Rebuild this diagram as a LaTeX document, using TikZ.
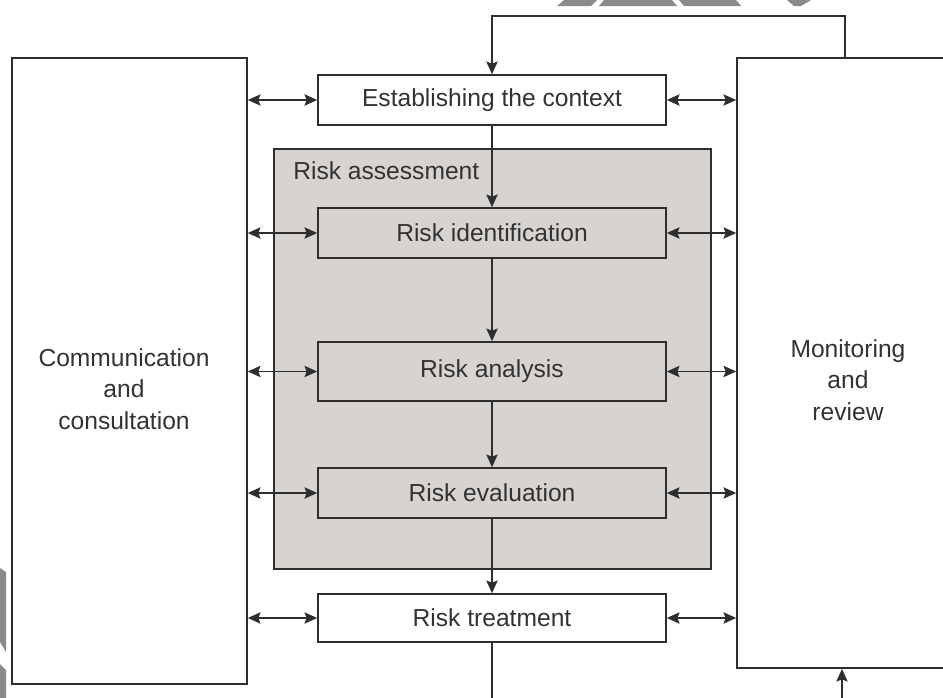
\documentclass[tikz,border=0pt]{standalone}
\usepackage{fontspec}
\setmainfont{Liberation Sans}
\usepackage{tikz}
\usetikzlibrary{arrows.meta, calc, positioning}
\definecolor{riskline}{HTML}{2E2E2E}
\definecolor{riskgray}{HTML}{D7D3D0}
\definecolor{risktext}{HTML}{333333}
\definecolor{markgray}{HTML}{8A8A8A}

\begin{document}
\begin{tikzpicture}[
    x=0.025cm, y=-0.025cm,
    stage/.style={rectangle, draw=riskline, line width=1.1pt, fill=white,
                  minimum width=8.7cm, minimum height=1.25cm, inner sep=0pt,
                  font=\fontsize{17.5}{22}\selectfont, text=risktext},
    inner/.style={stage, fill=riskgray},
    side/.style={rectangle, draw=riskline, line width=1.1pt, fill=white,
                 inner sep=0pt},
    sidetext/.style={align=center, font=\fontsize{17.5}{22.3}\selectfont,
                     text=risktext},
    flow/.style={riskline, line width=1.3pt,
                 -{Stealth[length=9pt, width=8pt, inset=1.5pt]}},
    both/.style={riskline, line width=1.3pt,
                 {Stealth[length=9pt, width=8pt, inset=1.5pt]}-{Stealth[length=9pt, width=8pt, inset=1.5pt]}},
]
    \useasboundingbox (0,0) rectangle (943,698);
    \clip (0,0) rectangle (943,698);
    \fill[white] (0,0) rectangle (943,698);

    % Side boxes
    \node[side, minimum width=5.875cm, minimum height=15.65cm] (comm) at (129.5,371) {};
    \node[side, minimum width=5.575cm, minimum height=15.25cm] (mon) at (848.5,363) {};
    \node[sidetext] (commtxt) at (124,389) {Communication\\and\\consultation};
    \node[sidetext] (montxt) at (848,380) {Monitoring\\and\\review};

    % Risk assessment frame
    \node[rectangle, draw=riskline, line width=1.1pt, fill=riskgray, inner sep=0pt,
          minimum width=10.925cm, minimum height=10.5cm] (assess) at (492.5,359) {};
    \node[anchor=base west, inner sep=0pt, font=\fontsize{17.5}{22}\selectfont,
          text=risktext] (assesslbl) at (293,179) {Risk assessment};

    % Stages
    \node[stage] (ctx) at (492,100) {Establishing the context};
    \node[inner] (ident) at (492,233) {Risk identification};
    \node[inner, minimum height=1.475cm] (anal) at (492,371.5) {Risk analysis};
    \node[inner] (eval) at (492,493) {Risk evaluation};
    \node[stage, minimum height=1.2cm] (treat) at (492,618) {Risk treatment};

    % Flow down
    \draw[flow] (ctx) -- (ident);
    \draw[flow] (ident) -- (anal);
    \draw[flow] (anal) -- (eval);
    \draw[flow] (eval) -- (treat);

    % Exchange arrows
    \foreach \s in {ctx, ident, anal, eval, treat} {
        \draw[both] (comm.east |- \s.west) -- (\s.west);
        \draw[both] (\s.east) -- (mon.west |- \s.east);
    }

    % Feedback loop
    \coordinate (loopcorner) at (845,16);
    \coordinate (outbottom) at (842,705);
    \draw[flow] (loopcorner |- mon.north) -- (loopcorner) -| (ctx.north);
    \draw[riskline, line width=1.3pt] (treat.south) -- (treat.south |- outbottom);
    \draw[flow] (outbottom) -- (outbottom |- mon.south);

    % Marks at the edges
    \fill[markgray] (557,6) -- (564,0) -- (597,0) -- (591,6) -- cycle;
    \fill[markgray] (599,6) -- (604,0) -- (672,0) -- (677,6) -- cycle;
    \fill[markgray] (684,6) -- (679,0) -- (736,0) -- (741,6) -- cycle;
    \fill[markgray] (787,0) -- (811,0) -- (801,6) -- (794,6) -- cycle;
    \fill[markgray] (0,568) -- (6,572) -- (6,652) -- (0,642) -- cycle;
    \fill[markgray] (0,664) -- (6,670) -- (6,698) -- (0,698) -- cycle;
\end{tikzpicture}
\end{document}
